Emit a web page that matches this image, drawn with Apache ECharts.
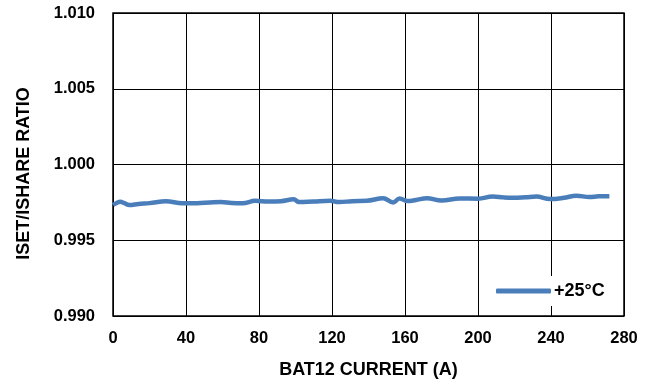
<!DOCTYPE html>
<html>
<head>
<meta charset="utf-8">
<script src="https://cdn.jsdelivr.net/npm/echarts@6/dist/echarts.min.js"></script>
<style>
  html, body { margin: 0; padding: 0; background: #fff; }
  #chart { width: 652px; height: 384px; }
</style>
</head>
<body>
<div id="chart"></div>
<script>
const current = [0, 2, 4, 6, 9, 14, 20, 29, 38, 46, 53, 59, 65, 71, 78, 85, 92, 99, 102, 110, 119, 124, 131, 139, 148, 153.5, 157, 161.5, 166, 172, 180, 190, 200, 208, 214, 219, 226, 232, 239.5, 247, 254, 261, 266, 272];
const ratio = [0.99733, 0.99746, 0.99754, 0.99746, 0.99733, 0.99740, 0.99745, 0.99757, 0.99745, 0.99745, 0.99749, 0.99752, 0.99746, 0.99744, 0.99760, 0.99756, 0.99758, 0.99770, 0.99752, 0.99756, 0.99760, 0.99752, 0.99758, 0.99760, 0.99777, 0.99750, 0.99776, 0.99759, 0.99766, 0.99777, 0.99762, 0.99776, 0.99774, 0.99788, 0.99783, 0.99781, 0.99784, 0.99788, 0.99772, 0.99780, 0.99794, 0.99785, 0.99790, 0.99791];
const seriesName = '+25°C';
const xTicks = [0, 40, 80, 120, 160, 200, 240, 280];
const yTicks = [0.990, 0.995, 1.000, 1.005, 1.010];

const chart = echarts.init(document.getElementById('chart'));

const font = {
  fontFamily: 'Liberation Sans, Arial, sans-serif',
  fontWeight: 'bold',
  fontSize: 16.5,
  color: '#000'
};
const titleFont = Object.assign({}, font, { fontSize: 18 });

const option = {
  animation: false,
  grid: {
    left: 113,
    right: 28,
    top: 13,
    bottom: 68,
    show: true,
    borderColor: '#000',
    borderWidth: 1.5
  },
  legend: {
    data: [seriesName],
    left: 492,
    top: 276,
    padding: [6, 4],
    backgroundColor: '#fff',
    itemWidth: 55,
    itemHeight: 5,
    icon: 'roundRect',
    itemGap: 4,
    textStyle: Object.assign({}, titleFont, { padding: [0, 0, 0, -2] })
  },
  xAxis: {
    type: 'value',
    min: xTicks[0],
    max: xTicks[xTicks.length - 1],
    interval: 40,
    name: 'BAT12 CURRENT (A)',
    nameLocation: 'middle',
    nameGap: 45,
    nameTextStyle: titleFont,
    axisLine: { show: false },
    axisTick: { show: false },
    axisLabel: Object.assign({}, font, { margin: 14 }),
    splitLine: { show: true, lineStyle: { color: '#000', width: 1 } }
  },
  yAxis: {
    type: 'value',
    min: yTicks[0],
    max: yTicks[yTicks.length - 1],
    interval: 0.005,
    name: 'ISET/ISHARE RATIO',
    nameLocation: 'middle',
    nameGap: 80,
    nameTextStyle: Object.assign({}, titleFont, { padding: [0, 18, 0, 0] }),
    axisLine: { show: false },
    axisTick: { show: false },
    axisLabel: Object.assign({}, font, {
      margin: 18,
      formatter: v => v.toFixed(3)
    }),
    splitLine: { show: true, lineStyle: { color: '#000', width: 1 } }
  },
  series: [{
    name: seriesName,
    type: 'line',
    data: current.map((c, i) => [c, ratio[i]]),
    smooth: 0.4,
    symbol: 'none',
    color: '#4a7ebb',
    lineStyle: { width: 4.5, color: '#4a7ebb' }
  }]
};

chart.setOption(option);
</script>
</body>
</html>
